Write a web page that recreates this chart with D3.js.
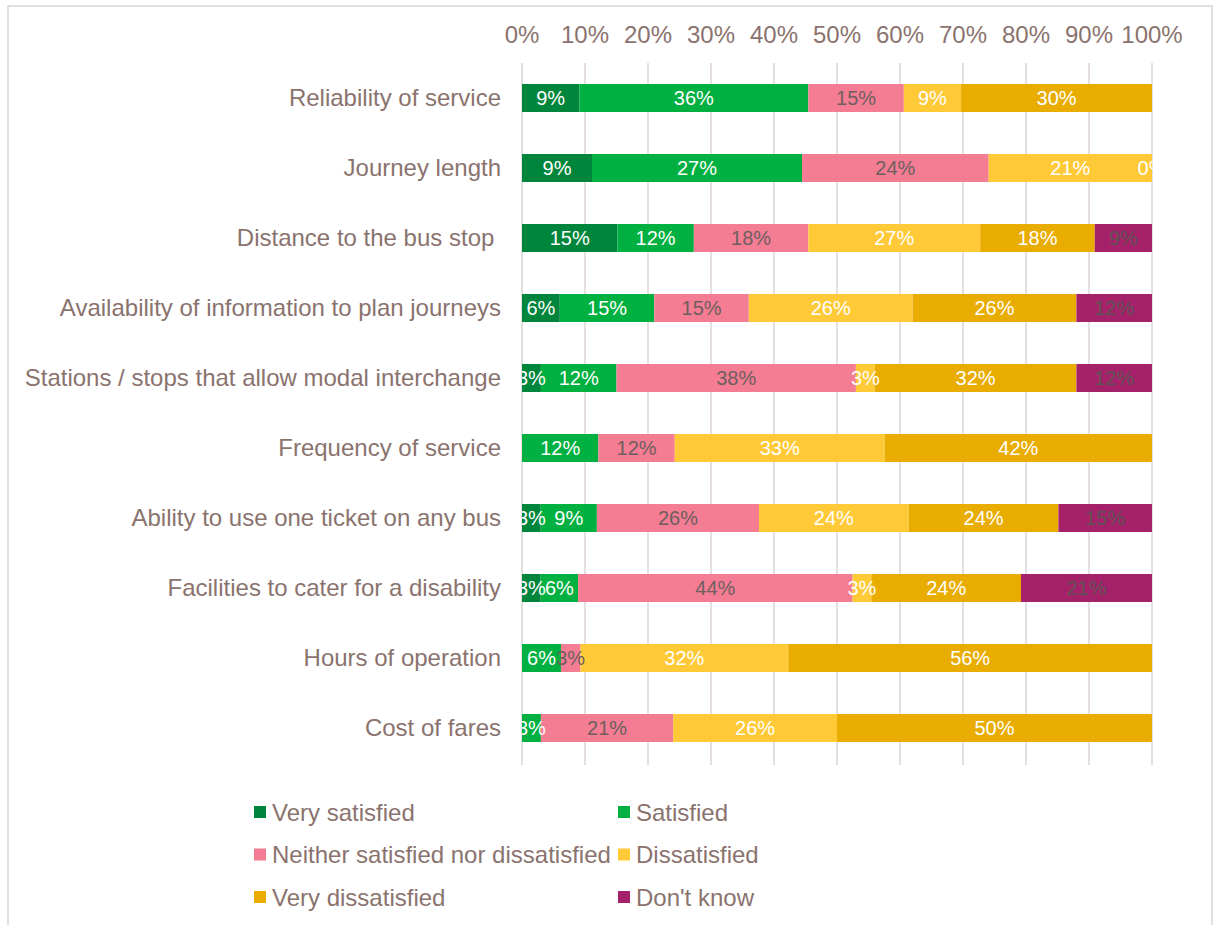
<!DOCTYPE html>
<html>
<head>
<meta charset="utf-8">
<script src="https://cdn.jsdelivr.net/npm/d3@7"></script>
<style>
  body { margin: 0; background: #fff; }
  text { font-family: "Liberation Sans", Arial, sans-serif; }
</style>
</head>
<body>
<script>
const m = { width: 1216, height: 925 }
const plot = { left: 522, right: 1152, top: 63, bottom: 763 }

const categories = [
    "Reliability of service",
    "Journey length",
    "Distance to the bus stop ",
    "Availability of information to plan journeys",
    "Stations / stops that allow modal interchange",
    "Frequency of service",
    "Ability to use one ticket on any bus",
    "Facilities to cater for a disability",
    "Hours of operation",
    "Cost of fares"
]
const seriesNames = ["Very satisfied", "Satisfied", "Neither satisfied nor dissatisfied",
    "Dissatisfied", "Very dissatisfied", "Don't know"]
const colors = ["#00853C", "#00B040", "#F47C93", "#FFC937", "#E9AC00", "#A5226A"]
const labelColors = ["#fff", "#fff", "#6e5f5f", "#fff", "#fff", "#5e5254"]

// percentages per category, in series order; null = no label shown
const veryS   = [9, 9, 15, 6, 3, null, 3, 3, null, null]
const sat     = [36, 27, 12, 15, 12, 12, 9, 6, 6, 3]
const neither = [15, 24, 18, 15, 38, 12, 26, 44, 3, 21]
const dissat  = [9, 21, 27, 26, 3, 33, 24, 3, 32, 26]
const veryD   = [30, 0, 18, 26, 32, 42, 24, 24, 56, 50]
const dontK   = [null, null, 9, 12, 12, null, 15, 21, null, null]
const ticks = [0, 0.1, 0.2, 0.3, 0.4, 0.5, 0.6, 0.7, 0.8, 0.9, 1]

const cols = [veryS, sat, neither, dissat, veryD, dontK]
const rows = categories.map((c, i) => {
    const r = { cat: c }
    seriesNames.forEach((s, j) => { r[s] = cols[j][i] })
    return r
})

const svg = d3.select("body").append('svg')
    .attr('width', m.width)
    .attr('height', m.height)

// outer frame
svg.append('rect')
    .attr('x', 8).attr('y', 6)
    .attr('width', 1204).attr('height', 940)
    .attr('fill', 'none')
    .attr('stroke', '#DCD6D4')
    .attr('stroke-width', 1.5)

const x = d3.scaleLinear().domain([0, 1]).range([plot.left, plot.right])
const y = d3.scaleBand().domain(categories).range([plot.top, plot.bottom]).paddingInner(0.6).paddingOuter(0.3)

// gridlines
svg.append('g').selectAll('line')
    .data(ticks)
    .enter()
    .append('line')
        .attr('x1', d => x(d)).attr('x2', d => x(d))
        .attr('y1', plot.top).attr('y2', plot.bottom + 2)
        .attr('stroke', '#DCD6D4')
        .attr('stroke-width', 1.5)

// top tick labels
svg.append('g').selectAll('text')
    .data(ticks)
    .enter()
    .append('text')
        .attr('x', d => x(d))
        .attr('y', 43)
        .attr('text-anchor', 'middle')
        .attr('font-size', 24)
        .attr('fill', '#8A736E')
        .text(d3.format('.0%'))

// category labels
svg.append('g').selectAll('text')
    .data(categories)
    .enter()
    .append('text')
        .attr('x', 501)
        .attr('y', d => y(d) + y.bandwidth() / 2)
        .attr('dy', '0.35em')
        .attr('text-anchor', 'end')
        .attr('font-size', 24)
        .attr('fill', '#8A736E')
        .style('white-space', 'pre')
        .text(d => d)

const stack = d3.stack()
    .keys(seriesNames)
    .value((d, k) => d[k] || 0)
    .offset(d3.stackOffsetExpand)
const stacked = stack(rows)

svg.append('clipPath').attr('id', 'plotclip')
    .append('rect')
    .attr('x', plot.left).attr('y', plot.top)
    .attr('width', plot.right - plot.left + 1).attr('height', plot.bottom - plot.top)

const layers = svg.append('g').selectAll('g')
    .data(stacked)
    .enter()
    .append('g')
        .attr('fill', (d, i) => colors[i])

layers.selectAll('rect')
    .data(d => d)
    .enter()
    .append('rect')
        .attr('x', d => x(d[0]))
        .attr('y', d => y(d.data.cat))
        .attr('width', d => x(d[1]) - x(d[0]))
        .attr('height', y.bandwidth())

const labels = svg.append('g').attr('clip-path', 'url(#plotclip)')
stacked.forEach((layer, i) => {
    labels.selectAll('.lab' + i)
        .data(layer.filter(d => d.data[layer.key] != null))
        .enter()
        .append('text')
            .attr('class', 'lab' + i)
            .attr('x', d => (x(d[0]) + x(d[1])) / 2)
            .attr('y', d => y(d.data.cat) + y.bandwidth() / 2)
            .attr('dy', '0.36em')
            .attr('text-anchor', 'middle')
            .attr('font-size', 20)
            .attr('fill', labelColors[i])
            .text(d => d.data[layer.key] + '%')
})

// legend
const legend = svg.append('g').selectAll('g')
    .data(seriesNames)
    .enter()
    .append('g')
        .attr('transform', (d, i) => `translate(${i % 2 ? 618 : 254},${812 + Math.floor(i / 2) * 42.5})`)

legend.append('rect')
    .attr('x', 0).attr('y', -6)
    .attr('width', 12).attr('height', 12)
    .attr('fill', (d, i) => colors[i])

legend.append('text')
    .attr('x', 18)
    .attr('dy', '0.36em')
    .attr('font-size', 24)
    .attr('fill', '#8A736E')
    .text(d => d)
</script>
</body>
</html>
